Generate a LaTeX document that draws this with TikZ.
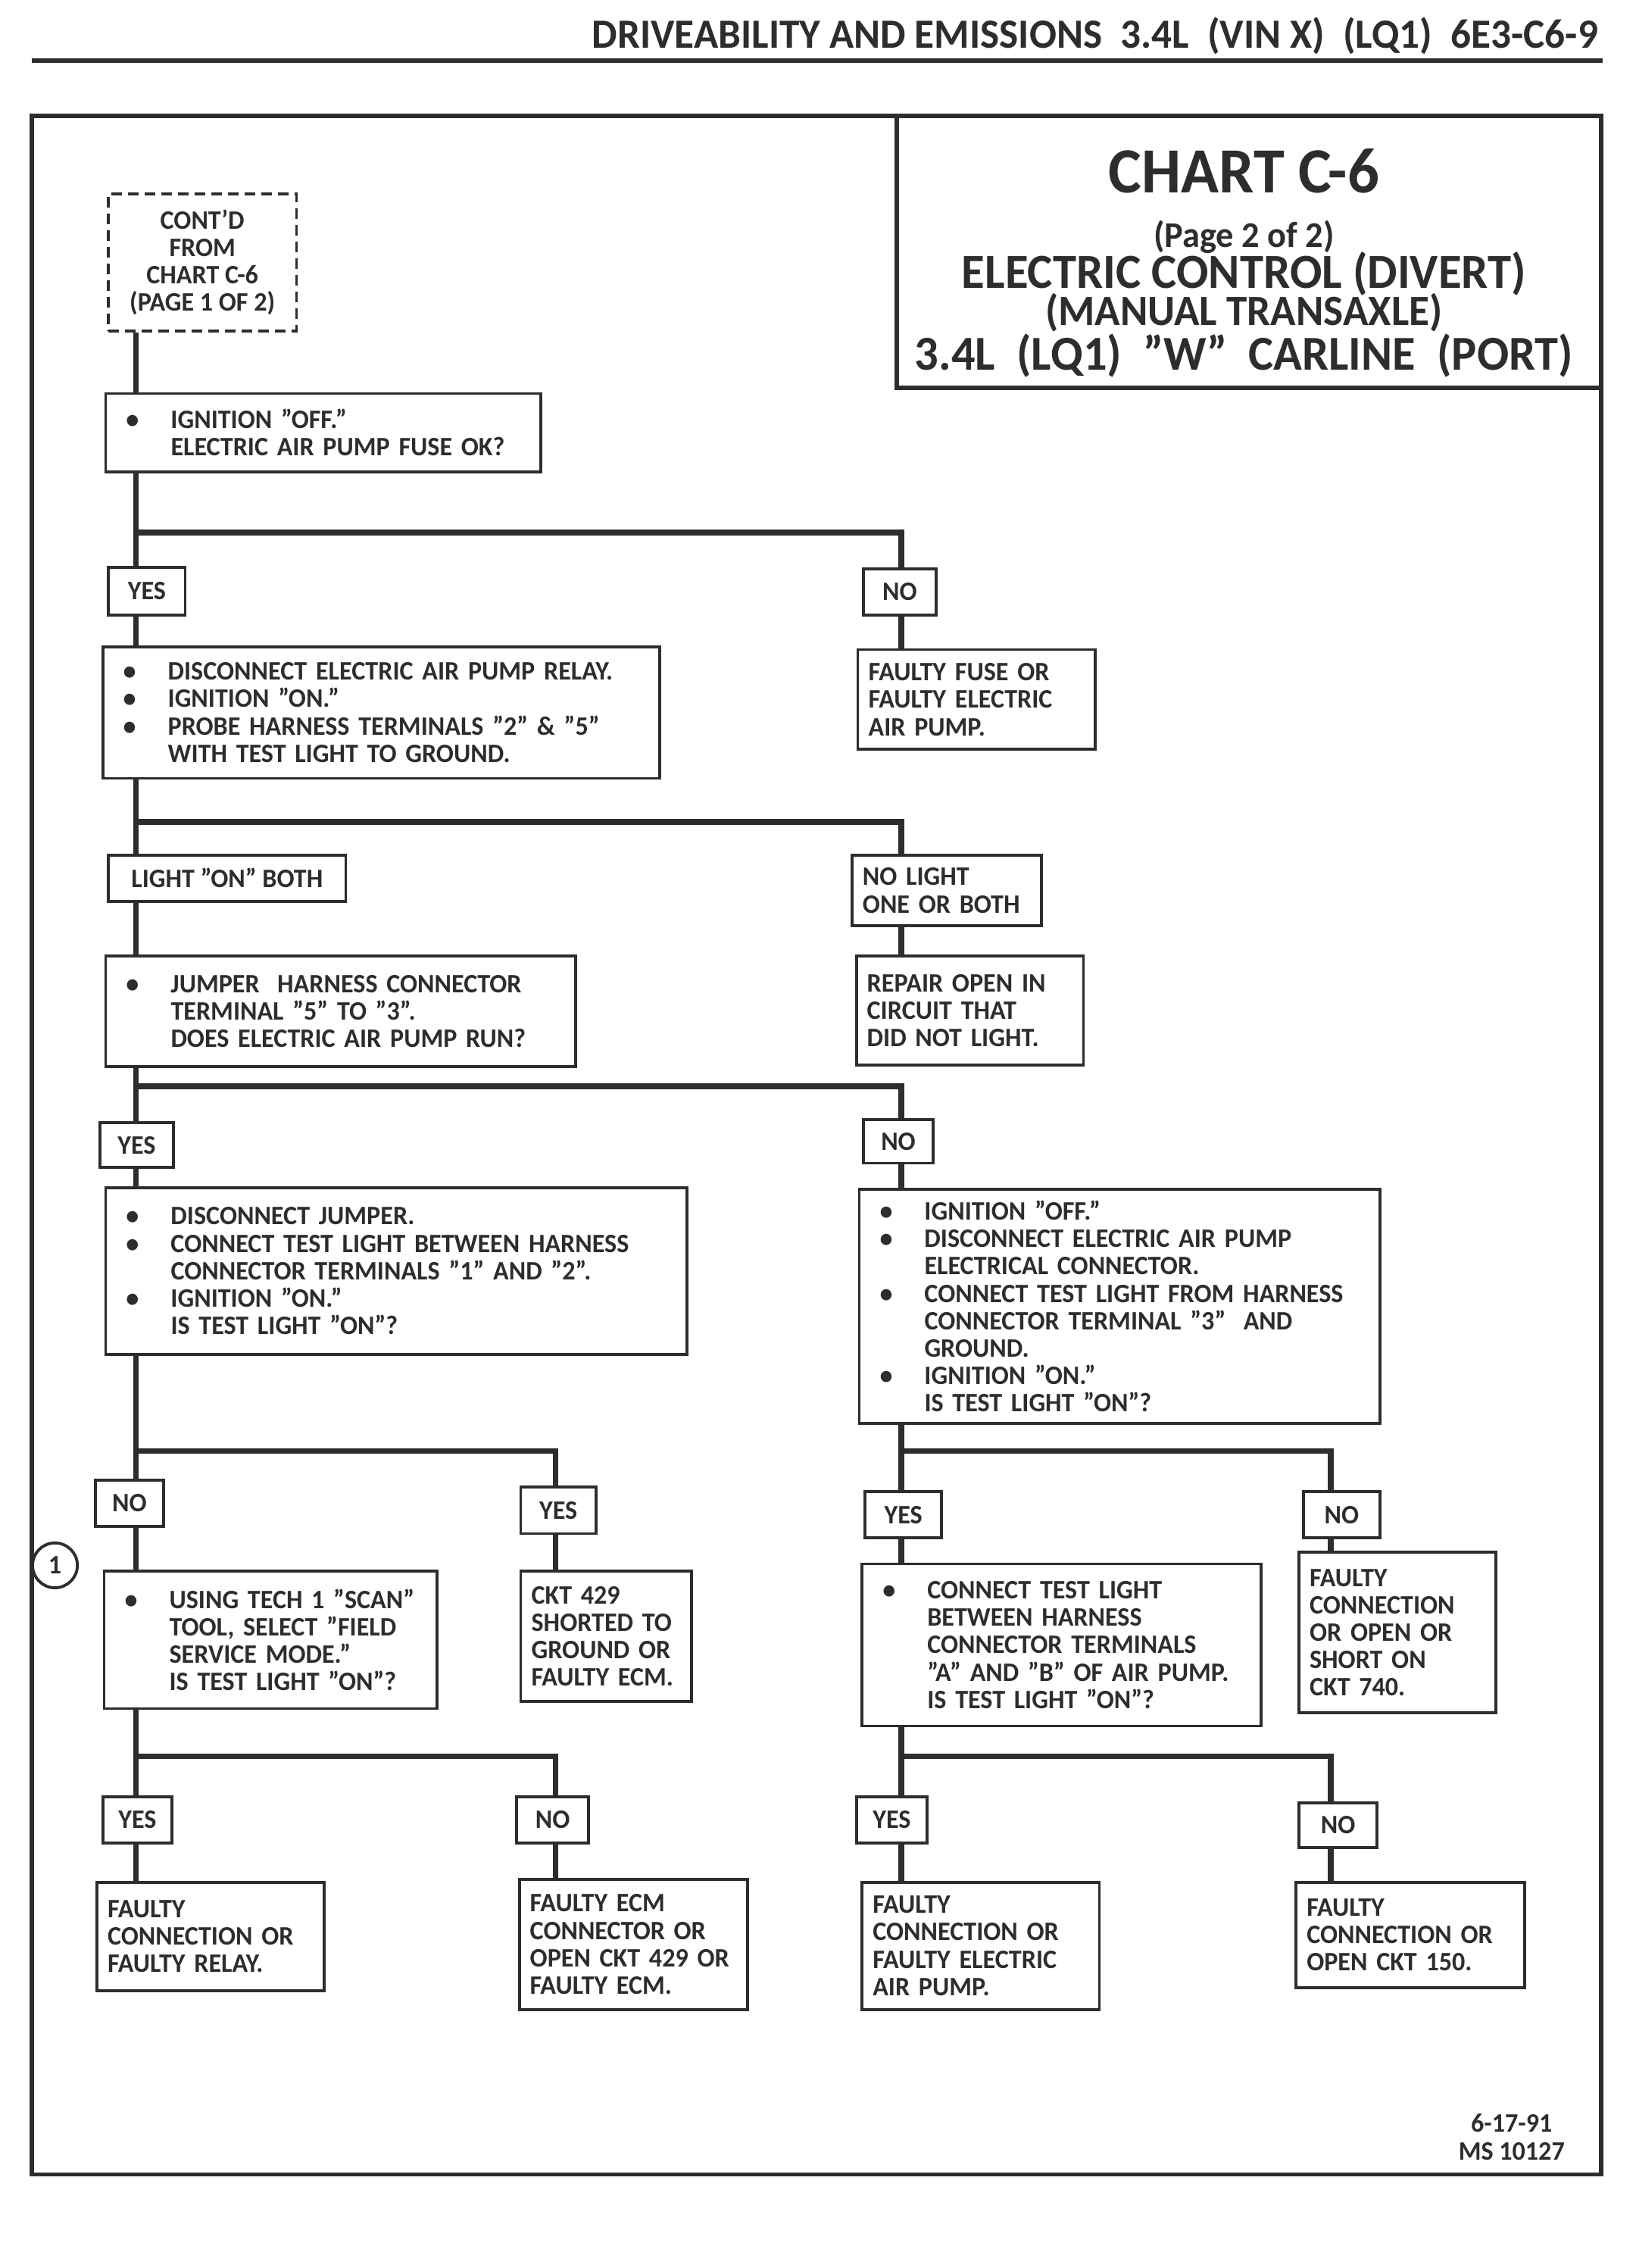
\documentclass[tikz,border=0pt]{standalone}
\usepackage{fontspec}
\setmainfont{Carlito}[FakeStretch=0.97]
\usepackage{tikz}
\usetikzlibrary{calc}
\definecolor{ink}{RGB}{45,45,45}
\newcommand\dpx{0.19098mm}
\newcommand\bul{\makebox[7.2mm][l]{\hspace{1.3mm}\textbullet}}
\newcommand\ind{\hspace*{7.2mm}}
\tikzset{frame/.style={draw=ink,line width=1.6pt}}
\tikzset{wire/.style={draw=ink,line width=2.2pt}}
\tikzset{stepbox/.style 2 args={draw=ink,line width=1.1pt,anchor=north west,inner xsep=4pt,inner ysep=2pt,align=left,minimum width=#1*\dpx,minimum height=#2*\dpx,/utils/exec={\pgfmathsetlengthmacro\boxtw{#1*\dpx-8pt}},text width/.expanded={\boxtw}}}
\tikzset{tag/.style 2 args={draw=ink,line width=1.1pt,anchor=north west,inner sep=0pt,minimum width=#1*\dpx,minimum height=#2*\dpx}}
\tikzset{contbox/.style={draw=ink,line width=1pt,dash pattern=on 1.4mm off 0.8mm,anchor=north west,align=center,inner sep=0pt,minimum width=130*\dpx,minimum height=95*\dpx}}
\tikzset{titletxt/.style={anchor=base,inner sep=0pt}}

\begin{document}
\begin{tikzpicture}[x=\dpx,y=-\dpx,text=ink,font=\fontsize{10}{10.3}\selectfont\bfseries]
  \useasboundingbox (0,0) rectangle (1131,1567.7);

  % Header
  \node[anchor=base east,inner sep=0pt,font=\fontsize{15.6}{17}\selectfont\bfseries] (head) at (1105,33) {DRIVEABILITY AND EMISSIONS~~3.4L~~(VIN X)~~(LQ1)~~6E3-C6-9};
  \draw[frame] (22,42) -- (1108,42);

  % Frame and title
  \draw[frame] (22,80) rectangle (1107,1503);
  \draw[frame] (620,80) rectangle (1107,268);
  \node[titletxt,font=\fontsize{24.2}{26}\selectfont\bfseries] (t1) at (860,133) {CHART C-6};
  \node[titletxt,font=\fontsize{13.6}{15}\selectfont\bfseries] (t2) at (860,171) {(Page 2 of 2)};
  \node[titletxt,font=\fontsize{18.4}{20}\selectfont\bfseries] (t3) at (860,199) {ELECTRIC CONTROL (DIVERT)};
  \node[titletxt,font=\fontsize{16.2}{18}\selectfont\bfseries] (t4) at (860,225) {(MANUAL TRANSAXLE)};
  \node[titletxt,font=\fontsize{18.3}{20}\selectfont\bfseries] (t5) at (860,256) {3.4L~~(LQ1)~~"W"~~CARLINE~~(PORT)};

  % Columns and junctions
  \coordinate (cA) at (94,0);
  \coordinate (cB) at (623,0);
  \coordinate (cC) at (384,0);
  \coordinate (cD) at (920,0);
  \coordinate (j1) at (94,368);
  \coordinate (j2) at (94,568);
  \coordinate (j3) at (94,751);
  \coordinate (j4) at (94,1003);
  \coordinate (j5) at (623,1003);
  \coordinate (j6) at (94,1214);
  \coordinate (j7) at (623,1214);

  % Boxes
  \node[contbox] (cont) at (74,133) {CONT’D\\FROM\\CHART C-6\\(PAGE 1 OF 2)};
  \node[stepbox={301}{54}] (b1) at (72,271) {\bul IGNITION "OFF."\\ \ind ELECTRIC AIR PUMP FUSE OK?};
  \node[tag={53}{33}] (yes1) at (74,391) {YES};
  \node[tag={50}{32}] (no1) at (596,392) {NO};
  \node[stepbox={385}{91}] (b2) at (70,446) {\bul DISCONNECT ELECTRIC AIR PUMP RELAY.\\ \bul IGNITION "ON."\\ \bul PROBE HARNESS TERMINALS "2" \& "5"\\ \ind WITH TEST LIGHT TO GROUND.};
  \node[stepbox={164}{69}] (fuse) at (592,448) {FAULTY FUSE OR\\ FAULTY ELECTRIC\\ AIR PUMP.};
  \node[tag={164}{32}] (lon) at (74,590) {LIGHT "ON" BOTH};
  \node[stepbox={131}{49}] (nol) at (588,590) {NO LIGHT\\ ONE OR BOTH};
  \node[stepbox={325}{76}] (b3) at (72,660) {\bul JUMPER~ HARNESS CONNECTOR\\ \ind TERMINAL "5" TO "3".\\ \ind DOES ELECTRIC AIR PUMP RUN?};
  \node[stepbox={157}{75}] (rep) at (591,660) {REPAIR OPEN IN\\ CIRCUIT THAT\\ DID NOT LIGHT.};
  \node[tag={51}{31}] (yes3) at (68,775) {YES};
  \node[tag={48}{30}] (no3) at (596,773) {NO};
  \node[stepbox={402}{115}] (b4) at (72,820) {\bul DISCONNECT JUMPER.\\ \bul CONNECT TEST LIGHT BETWEEN HARNESS\\ \ind CONNECTOR TERMINALS "1" AND "2".\\ \bul IGNITION "ON."\\ \ind IS TEST LIGHT "ON"?};
  \node[stepbox={360}{162}] (b5) at (593,821) {\bul IGNITION "OFF."\\ \bul DISCONNECT ELECTRIC AIR PUMP\\ \ind ELECTRICAL CONNECTOR.\\ \bul CONNECT TEST LIGHT FROM HARNESS\\ \ind CONNECTOR TERMINAL "3"~~AND\\ \ind GROUND.\\ \bul IGNITION "ON."\\ \ind IS TEST LIGHT "ON"?};
  \node[tag={47}{32}] (no4) at (65,1022) {NO};
  \node[tag={52}{32}] (yes4) at (359,1027) {YES};
  \node[circle,draw=ink,line width=1.1pt,inner sep=0pt,minimum size=31*\dpx] (mark1) at (38,1082) {1};
  \node[stepbox={230}{95}] (b6) at (71,1085) {\bul USING TECH 1 "SCAN"\\ \ind TOOL, SELECT "FIELD\\ \ind SERVICE MODE."\\ \ind IS TEST LIGHT "ON"?};
  \node[stepbox={118}{90}] (ckt) at (359,1085) {CKT 429\\ SHORTED TO\\ GROUND OR\\ FAULTY ECM.};
  \node[tag={53}{32}] (yes5) at (597,1030) {YES};
  \node[tag={53}{32}] (no5) at (900,1030) {NO};
  \node[stepbox={276}{112}] (b7) at (595,1080) {\bul CONNECT TEST LIGHT\\ \ind BETWEEN HARNESS\\ \ind CONNECTOR TERMINALS\\ \ind "A" AND "B" OF AIR PUMP.\\ \ind IS TEST LIGHT "ON"?};
  \node[stepbox={136}{111}] (f740) at (897,1072) {FAULTY\\ CONNECTION\\ OR OPEN OR\\ SHORT ON\\ CKT 740.};
  \node[tag={48}{32}] (yes6) at (70,1241) {YES};
  \node[tag={50}{32}] (no6) at (356,1241) {NO};
  \node[stepbox={157}{75}] (frelay) at (66,1300) {FAULTY\\ CONNECTION OR\\ FAULTY RELAY.};
  \node[stepbox={158}{90}] (fecm) at (358,1298) {FAULTY ECM\\ CONNECTOR OR\\ OPEN CKT 429 OR\\ FAULTY ECM.};
  \node[tag={49}{32}] (yes7) at (591,1241) {YES};
  \node[tag={54}{31}] (no7) at (897,1245) {NO};
  \node[stepbox={164}{88}] (fpump) at (595,1300) {FAULTY\\ CONNECTION OR\\ FAULTY ELECTRIC\\ AIR PUMP.};
  \node[stepbox={158}{73}] (f150) at (895,1300) {FAULTY\\ CONNECTION OR\\ OPEN CKT 150.};
  \node[align=center,anchor=north,inner sep=0pt] (stamp) at (1045,1461) {6-17-91\\MS 10127};

  % Connectors
  \draw[wire] (cont.south -| cA) -- (b1.north -| cA);
  \draw[wire] (b1.south -| cA) -- (yes1.north -| cA);
  \draw[wire] (j1) -| (no1.north -| cB);
  \draw[wire] (yes1.south -| cA) -- (b2.north -| cA);
  \draw[wire] (no1.south -| cB) -- (fuse.north -| cB);
  \draw[wire] (b2.south -| cA) -- (lon.north -| cA);
  \draw[wire] (j2) -| (nol.north -| cB);
  \draw[wire] (lon.south -| cA) -- (b3.north -| cA);
  \draw[wire] (nol.south -| cB) -- (rep.north -| cB);
  \draw[wire] (b3.south -| cA) -- (yes3.north -| cA);
  \draw[wire] (j3) -| (no3.north -| cB);
  \draw[wire] (yes3.south -| cA) -- (b4.north -| cA);
  \draw[wire] (no3.south -| cB) -- (b5.north -| cB);
  \draw[wire] (b4.south -| cA) -- (no4.north -| cA);
  \draw[wire] (j4) -| (yes4.north -| cC);
  \draw[wire] (no4.south -| cA) -- (b6.north -| cA);
  \draw[wire] (yes4.south -| cC) -- (ckt.north -| cC);
  \draw[wire] (b5.south -| cB) -- (yes5.north -| cB);
  \draw[wire] (j5) -| (no5.north -| cD);
  \draw[wire] (yes5.south -| cB) -- (b7.north -| cB);
  \draw[wire] (no5.south -| cD) -- (f740.north -| cD);
  \draw[wire] (b6.south -| cA) -- (yes6.north -| cA);
  \draw[wire] (j6) -| (no6.north -| cC);
  \draw[wire] (yes6.south -| cA) -- (frelay.north -| cA);
  \draw[wire] (no6.south -| cC) -- (fecm.north -| cC);
  \draw[wire] (b7.south -| cB) -- (yes7.north -| cB);
  \draw[wire] (j7) -| (no7.north -| cD);
  \draw[wire] (yes7.south -| cB) -- (fpump.north -| cB);
  \draw[wire] (no7.south -| cD) -- (f150.north -| cD);
\end{tikzpicture}
\end{document}
